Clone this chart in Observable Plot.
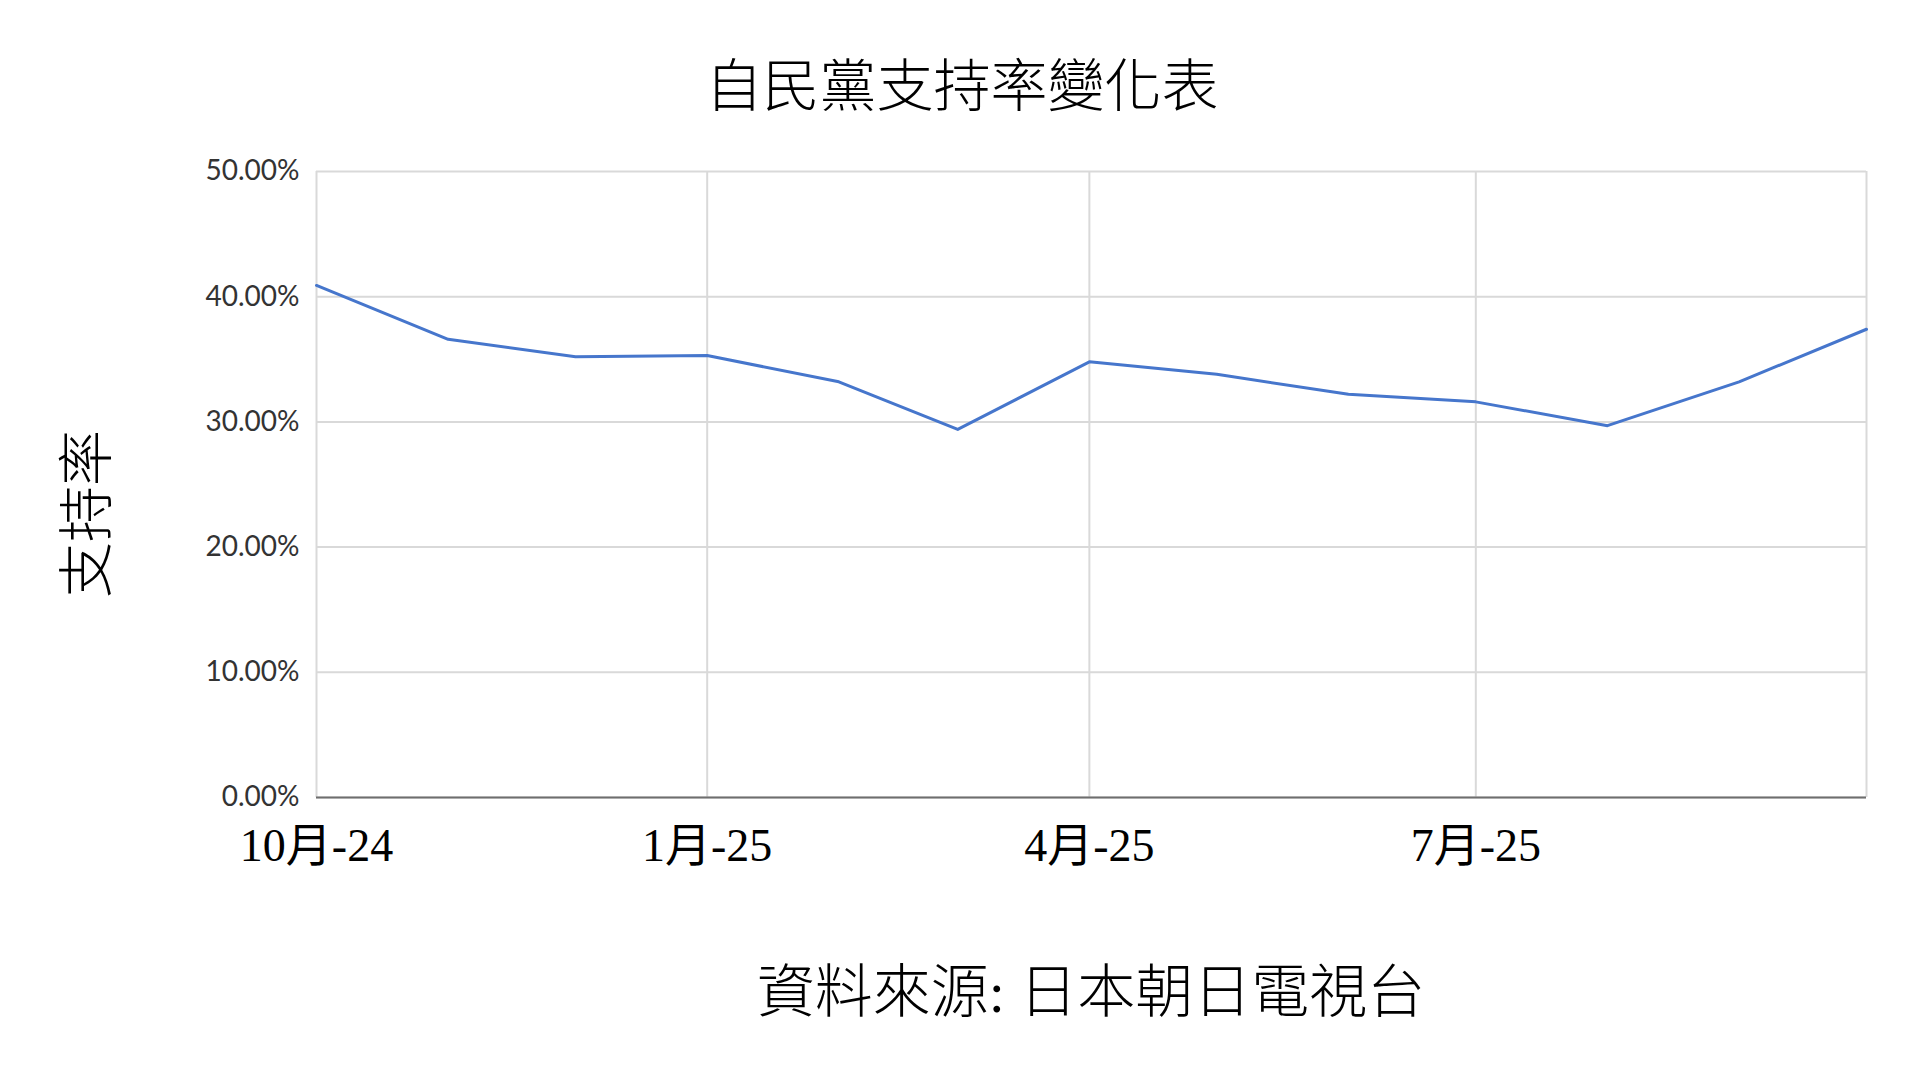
<!DOCTYPE html>
<html>
<head>
<meta charset="utf-8">
<script src="https://cdn.jsdelivr.net/npm/d3@7"></script>
<script src="https://cdn.jsdelivr.net/npm/@observablehq/plot@0.6"></script>
<style>
  html, body { margin: 0; padding: 0; background: #ffffff; overflow: hidden; }
  #page { position: relative; width: 1920px; height: 1080px; background: #ffffff; }
  .serifcjk { font-family: "Liberation Serif", "Noto Sans CJK TC", serif; font-weight: 300; color: #000; }
  #title { box-sizing: border-box; width: 1920px; height: 150px; padding-top: 58px; padding-left: 4px;
           text-align: center; font-size: 57px; line-height: 57px; white-space: nowrap; }
  #caption { box-sizing: border-box; width: 1920px; padding-top: 64px; padding-left: 262px;
             text-align: center; font-size: 58px; line-height: 58px; white-space: nowrap; }
  #ylabel { position: absolute; left: 87px; top: 514px; transform: translate(-50%, -50%) rotate(-90deg);
            font-size: 56px; line-height: 56px; white-space: nowrap; }
  svg { display: block; }
</style>
</head>
<body>
<div id="page">
  <div id="title" class="serifcjk">自民黨支持率變化表</div>
  <div id="chart"></div>
  <div id="caption" class="serifcjk">資料來源: 日本朝日電視台</div>
  <div id="ylabel" class="serifcjk">支持率</div>
</div>
<script>
// Monthly survey dates (Oct 2024 – Oct 2025)
const months = ["2024-10-01","2024-11-01","2024-12-01","2025-01-01","2025-02-01","2025-03-01",
                "2025-04-01","2025-05-01","2025-06-01","2025-07-01","2025-08-01","2025-09-01","2025-10-01"];
// LDP support rate (%)
const support = [40.9, 36.6, 35.2, 35.3, 33.2, 29.4, 34.8, 33.8, 32.2, 31.6, 29.7, 33.2, 37.4];

const yTicks = [0, 10, 20, 30, 40, 50];
const xTickDates = ["2024-10-01", "2025-01-01", "2025-04-01", "2025-07-01"];
const xTickLabels = ["10月-24", "1月-25", "4月-25", "7月-25"];
const xGridDates = ["2024-10-01", "2025-01-01", "2025-04-01", "2025-07-01", "2025-10-01"];

const data = months.map((m, i) => ({date: new Date(m), value: support[i]}));
const tickDates = xTickDates.map(s => new Date(s));
const gridDates = xGridDates.map(s => new Date(s));

const chart = Plot.plot({
  width: 1920,
  height: 750,
  marginLeft: 316,
  marginRight: 54,
  marginTop: 21,
  marginBottom: 103,
  style: {background: "#ffffff"},
  x: {type: "utc", domain: [new Date(months[0]), new Date(months[months.length - 1])]},
  y: {domain: [0, 50]},
  marks: [
    Plot.gridY(yTicks, {stroke: "#d9d9d9", strokeOpacity: 1, strokeWidth: 2}),
    Plot.gridX(gridDates, {stroke: "#d9d9d9", strokeOpacity: 1, strokeWidth: 2}),
    Plot.ruleY([0], {stroke: "#6e6e6e", strokeWidth: 2}),
    Plot.axisY(yTicks, {
      tickSize: 0, tickPadding: 17, label: null,
      tickFormat: d => d.toFixed(2) + "%",
      fontSize: 28, fontFamily: "Lato, 'Open Sans', sans-serif", fill: "#333333"
    }),
    Plot.axisX(tickDates, {
      tickSize: 0, tickPadding: 31, label: null,
      tickFormat: d => xTickLabels[tickDates.findIndex(t => +t === +d)],
      fontSize: 46, fontFamily: "'Liberation Serif', 'Noto Sans CJK TC', serif", fill: "#000000"
    }),
    Plot.lineY(data, {x: "date", y: "value", stroke: "#4676cc", strokeWidth: 3})
  ]
});
document.getElementById("chart").appendChild(chart);
</script>
</body>
</html>
